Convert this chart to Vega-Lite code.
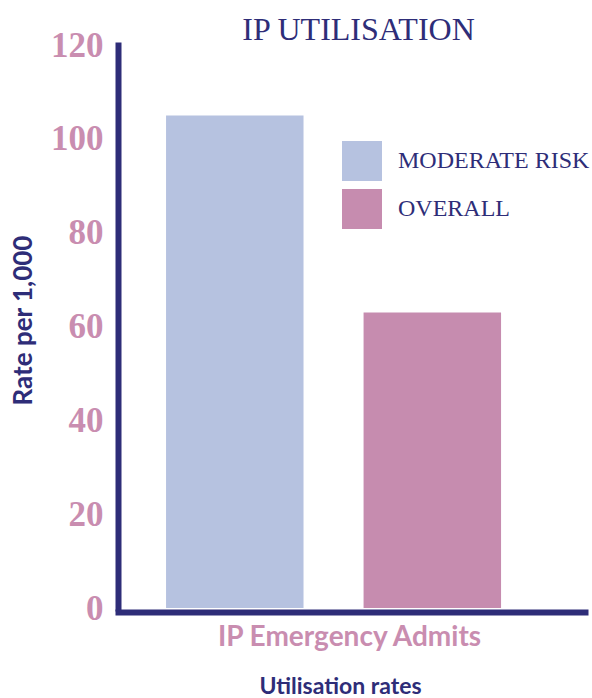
{
  "$schema": "https://vega.github.io/schema/vega-lite/v6.json",
  "width": 467,
  "height": 563,
  "autosize": "none",
  "padding": {"left": 118, "top": 45, "right": 7, "bottom": 90},
  "background": "white",
  "title": {
    "text": "IP UTILISATION",
    "font": "Liberation Serif",
    "fontSize": 32,
    "fontWeight": "normal",
    "color": "#2e2d78",
    "anchor": "middle",
    "dx": 7,
    "offset": -19
  },
  "data": {
    "values": [
      {"metric": "IP Emergency Admits", "series": "MODERATE RISK", "rate": 105},
      {"metric": "IP Emergency Admits", "series": "OVERALL", "rate": 63}
    ]
  },
  "mark": {"type": "bar"},
  "encoding": {
    "x": {
      "field": "metric",
      "type": "nominal",
      "scale": {"paddingInner": 0, "paddingOuter": 0.197, "align": 0.364},
      "axis": {
        "title": "Utilisation rates",
        "titleFont": "Lato",
        "titleFontSize": 23,
        "titleFontWeight": "bold",
        "titleColor": "#2e2d78",
        "titlePadding": 24,
        "titleX": 222,
        "labelFont": "Lato",
        "labelFontSize": 28,
        "labelFontWeight": "bold",
        "labelColor": "#c98db0",
        "labelAngle": 0,
        "labelLimit": 500,
        "labelPadding": 11,
        "labelOffset": 16,
        "ticks": false,
        "tickSize": 0,
        "domainColor": "#2e2d78",
        "domainWidth": 6,
        "domainCap": "square",
        "offset": 4,
        "zindex": 1
      }
    },
    "xOffset": {
      "field": "series",
      "type": "nominal",
      "sort": ["MODERATE RISK", "OVERALL"],
      "scale": {"paddingInner": 0.304, "paddingOuter": 0}
    },
    "y": {
      "field": "rate",
      "type": "quantitative",
      "scale": {"domain": [0, 120], "nice": false},
      "axis": {
        "title": "Rate per 1,000",
        "titleFont": "Lato",
        "titleFontSize": 26,
        "titleFontWeight": "bold",
        "titleColor": "#2e2d78",
        "titleX": -95,
        "titleY": 275,
        "titleAngle": -90,
        "titleBaseline": "middle",
        "titleAlign": "center",
        "values": [0, 20, 40, 60, 80, 100, 120],
        "labelFont": "Liberation Serif",
        "labelFontSize": 35,
        "labelFontWeight": "bold",
        "labelColor": "#c98db0",
        "labelPadding": 15,
        "ticks": false,
        "tickSize": 0,
        "grid": false,
        "domainColor": "#2e2d78",
        "domainWidth": 6,
        "domainCap": "square",
        "zindex": 1
      }
    },
    "color": {
      "field": "series",
      "type": "nominal",
      "scale": {"domain": ["MODERATE RISK", "OVERALL"], "range": ["#b6c2e0", "#c68caf"]},
      "legend": {
        "title": null,
        "orient": "none",
        "legendX": 224,
        "legendY": 96,
        "padding": 0,
        "symbolType": "square",
        "symbolSize": 1600,
        "symbolStrokeWidth": 0,
        "symbolOpacity": 1,
        "rowPadding": 8,
        "labelOffset": 16,
        "labelFont": "Liberation Serif",
        "labelFontSize": 24,
        "labelColor": "#2e2d78",
        "labelLimit": 300
      }
    }
  },
  "config": {
    "view": {"stroke": null}
  }
}
